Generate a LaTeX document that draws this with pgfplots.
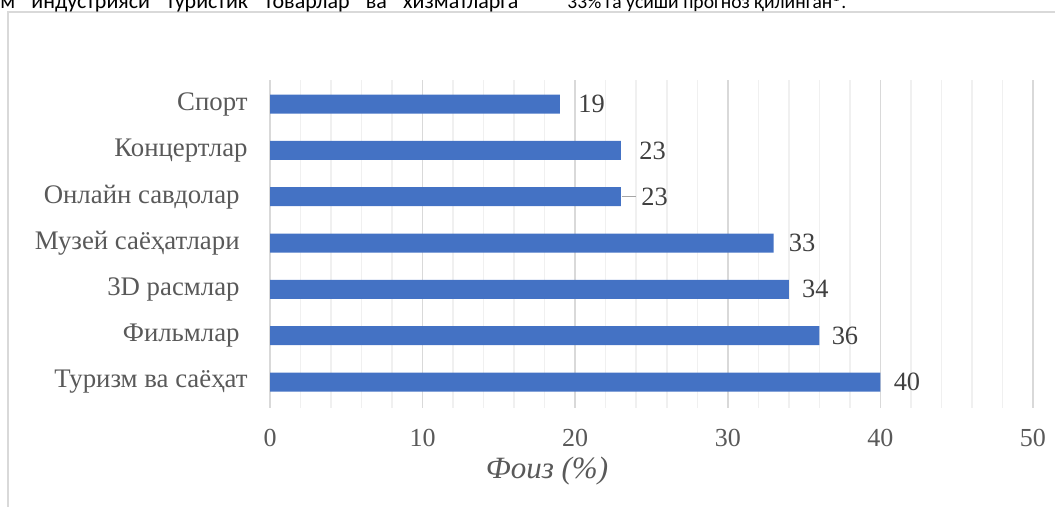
\documentclass[border=0pt]{standalone}
\usepackage{fontspec}
\setmainfont{Liberation Serif}
\newfontfamily\topfont{Carlito}
\usepackage{pgfplots}
\pgfplotsset{compat=1.18}
\definecolor{barblue}{HTML}{4472C4}
\definecolor{txtgray}{HTML}{595959}
\definecolor{lblgray}{HTML}{404040}
\definecolor{majgrid}{HTML}{D9D9D9}
\definecolor{mingrid}{HTML}{F0F0F0}

\begin{document}
\begin{tikzpicture}
\useasboundingbox (0,0) rectangle (527.5pt,253.5pt);
\begin{scope}
\clip (0,0) rectangle (527.5pt,253.5pt);
% chart frame and clipped text line above it
\draw[majgrid, line width=0.8pt] (4pt,-10pt) rectangle (560pt,247.5pt);
\node[anchor=base west, inner sep=0pt] at (0pt,249pt)
  {\topfont\fontsize{11pt}{12pt}\selectfont\makebox[259pt][s]{м индустрияси туристик товарлар ва хизматларга}};
\node[anchor=base west, inner sep=0pt] at (283.5pt,249pt)
  {\topfont\fontsize{9.8pt}{12pt}\selectfont 33\% га усиши прогноз қилинган$^{1}$.};
\end{scope}

\begin{axis}[
    at={(135pt,49.5pt)}, anchor=south west,
    scale only axis,
    width=381.5pt, height=164pt,
    xbar,
    bar width=9.5pt,
    xmin=0, xmax=50,
    ymin=-0.56, ymax=6.52,
    xtick={0,10,...,50},
    minor x tick num=4,
    ytick={0,...,6},
    yticklabels={
        Туризм ва саёҳат,
        Фильмлар\kern4pt,
        3D расмлар\kern4pt,
        Музей саёҳатлари\kern4pt,
        Онлайн савдолар\kern4pt,
        Концертлар,
        Спорт
    },
    axis line style={draw=none},
    major tick length=0pt, minor tick length=0pt,
    xmajorgrids, xminorgrids,
    major grid style={majgrid, line width=0.75pt},
    minor grid style={mingrid, line width=0.75pt},
    /pgf/number format/assume math mode=true,
    ticklabel style={text=txtgray, font=\fontsize{13pt}{15pt}\selectfont},
    yticklabel style={inner sep=0pt, anchor=east, xshift=-11pt,
        font=\fontsize{13.4pt}{15pt}\selectfont},
    xticklabel style={inner sep=0pt, anchor=north, yshift=-10.5pt},
    visualization depends on={\thisrow{off} \as \labeloff},
    nodes near coords,
    nodes near coords style={anchor=west, inner sep=0pt, xshift=\labeloff pt,
        text=lblgray, font=\fontsize{13.2pt}{15pt}\selectfont,
        /pgf/number format/assume math mode=true},
]
% value, category index, label offset (pt)
\addplot[fill=barblue, draw=none] table[x=val, y=idx] {
    val idx off
    40  0   6.5
    36  1   6
    34  2   6.5
    33  3   7.5
    23  4   10
    23  5   9
    19  6   9
};
% leader line of the "Онлайн савдолар" label
\draw[gray!70, line width=0.6pt] (axis cs:23.05,4) -- (axis cs:24,4);
\end{axis}

\node[text=txtgray, font=\itshape\fontsize{15.5pt}{18pt}\selectfont] at (273.5pt,18pt) {Фоиз (\%)};
\end{tikzpicture}
\end{document}
